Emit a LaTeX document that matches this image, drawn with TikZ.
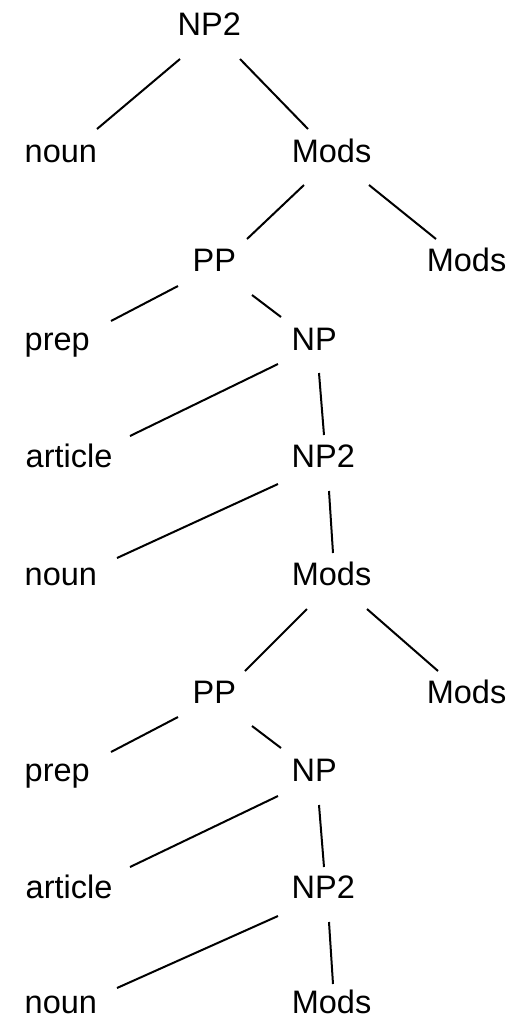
\documentclass[tikz,border=0pt]{standalone}
\usepackage{fontspec}
\setmainfont{Liberation Sans}
\usetikzlibrary{calc}
\begin{document}
\begin{tikzpicture}[x=1pt,y=-1pt,
  lbl/.style={anchor=base west, inner sep=0pt, font=\fontsize{32.5pt}{39pt}\selectfont},
  edge/.style={line width=2pt, black}]
\useasboundingbox[fill=white] (0,0) rectangle (514,1018);
% nodes
\node[lbl] (n0)     at (177.5,35)  {NP2};
\node[lbl] (noun1)  at (24.5,162)  {noun};
\node[lbl] (mods1)  at (291.6,162) {Mods};
\node[lbl] (pp1)    at (192.5,271) {PP};
\node[lbl] (modsr1) at (426.6,271) {Mods};
\node[lbl] (prep1)  at (24.5,350)  {prep};
\node[lbl] (np1)    at (291.5,350) {NP};
\node[lbl] (art1)   at (25.5,467)  {article};
\node[lbl] (np2b)   at (291.5,467) {NP2};
\node[lbl] (noun2)  at (24.5,585)  {noun};
\node[lbl] (mods2)  at (291.6,585) {Mods};
\node[lbl] (pp2)    at (192.5,703) {PP};
\node[lbl] (modsr2) at (426.6,703) {Mods};
\node[lbl] (prep2)  at (24.5,781)  {prep};
\node[lbl] (np3)    at (291.5,781) {NP};
\node[lbl] (art2)   at (25.5,898)  {article};
\node[lbl] (np2c)   at (291.5,898) {NP2};
\node[lbl] (noun3)  at (24.5,1013.5) {noun};
\node[lbl] (mods3)  at (291.6,1013.5) {Mods};
% edges
\draw[edge] ($(n0.base west)+(2.5,24)$) -- ($(noun1.base west)+(72.5,-33)$);
\draw[edge] ($(n0.base west)+(62.5,24)$) -- ($(mods1.base west)+(16.4,-33)$);
\draw[edge] ($(mods1.base west)+(12.4,23)$) -- ($(pp1.base west)+(54.5,-32)$);
\draw[edge] ($(mods1.base west)+(77.4,23)$) -- ($(modsr1.base west)+(9.4,-32)$);
\draw[edge] ($(pp1.base west)+(-14.5,15)$) -- ($(prep1.base west)+(86.5,-29)$);
\draw[edge] ($(pp1.base west)+(59.5,24)$) -- ($(np1.base west)+(-10.5,-33)$);
\draw[edge] ($(np1.base west)+(-13.5,14)$) -- ($(art1.base west)+(104.5,-31)$);
\draw[edge] ($(np1.base west)+(27.5,23)$) -- ($(np2b.base west)+(32.5,-32)$);
\draw[edge] ($(np2b.base west)+(-13.5,17)$) -- ($(noun2.base west)+(92.5,-27)$);
\draw[edge] ($(np2b.base west)+(37.5,24)$) -- ($(mods2.base west)+(41.4,-32)$);
\draw[edge] ($(mods2.base west)+(15.4,24)$) -- ($(pp2.base west)+(52.5,-32)$);
\draw[edge] ($(mods2.base west)+(75.4,24)$) -- ($(modsr2.base west)+(11.4,-32)$);
\draw[edge] ($(pp2.base west)+(-14.5,14)$) -- ($(prep2.base west)+(86.5,-29)$);
\draw[edge] ($(pp2.base west)+(59.5,23)$) -- ($(np3.base west)+(-10.5,-33)$);
\draw[edge] ($(np3.base west)+(-13.5,15)$) -- ($(art2.base west)+(104.5,-31)$);
\draw[edge] ($(np3.base west)+(27.5,24)$) -- ($(np2c.base west)+(32.5,-31)$);
\draw[edge] ($(np2c.base west)+(-13.5,18)$) -- ($(noun3.base west)+(92.5,-25.5)$);
\draw[edge] ($(np2c.base west)+(37.5,24)$) -- ($(mods3.base west)+(41.4,-29.5)$);
\end{tikzpicture}
\end{document}
